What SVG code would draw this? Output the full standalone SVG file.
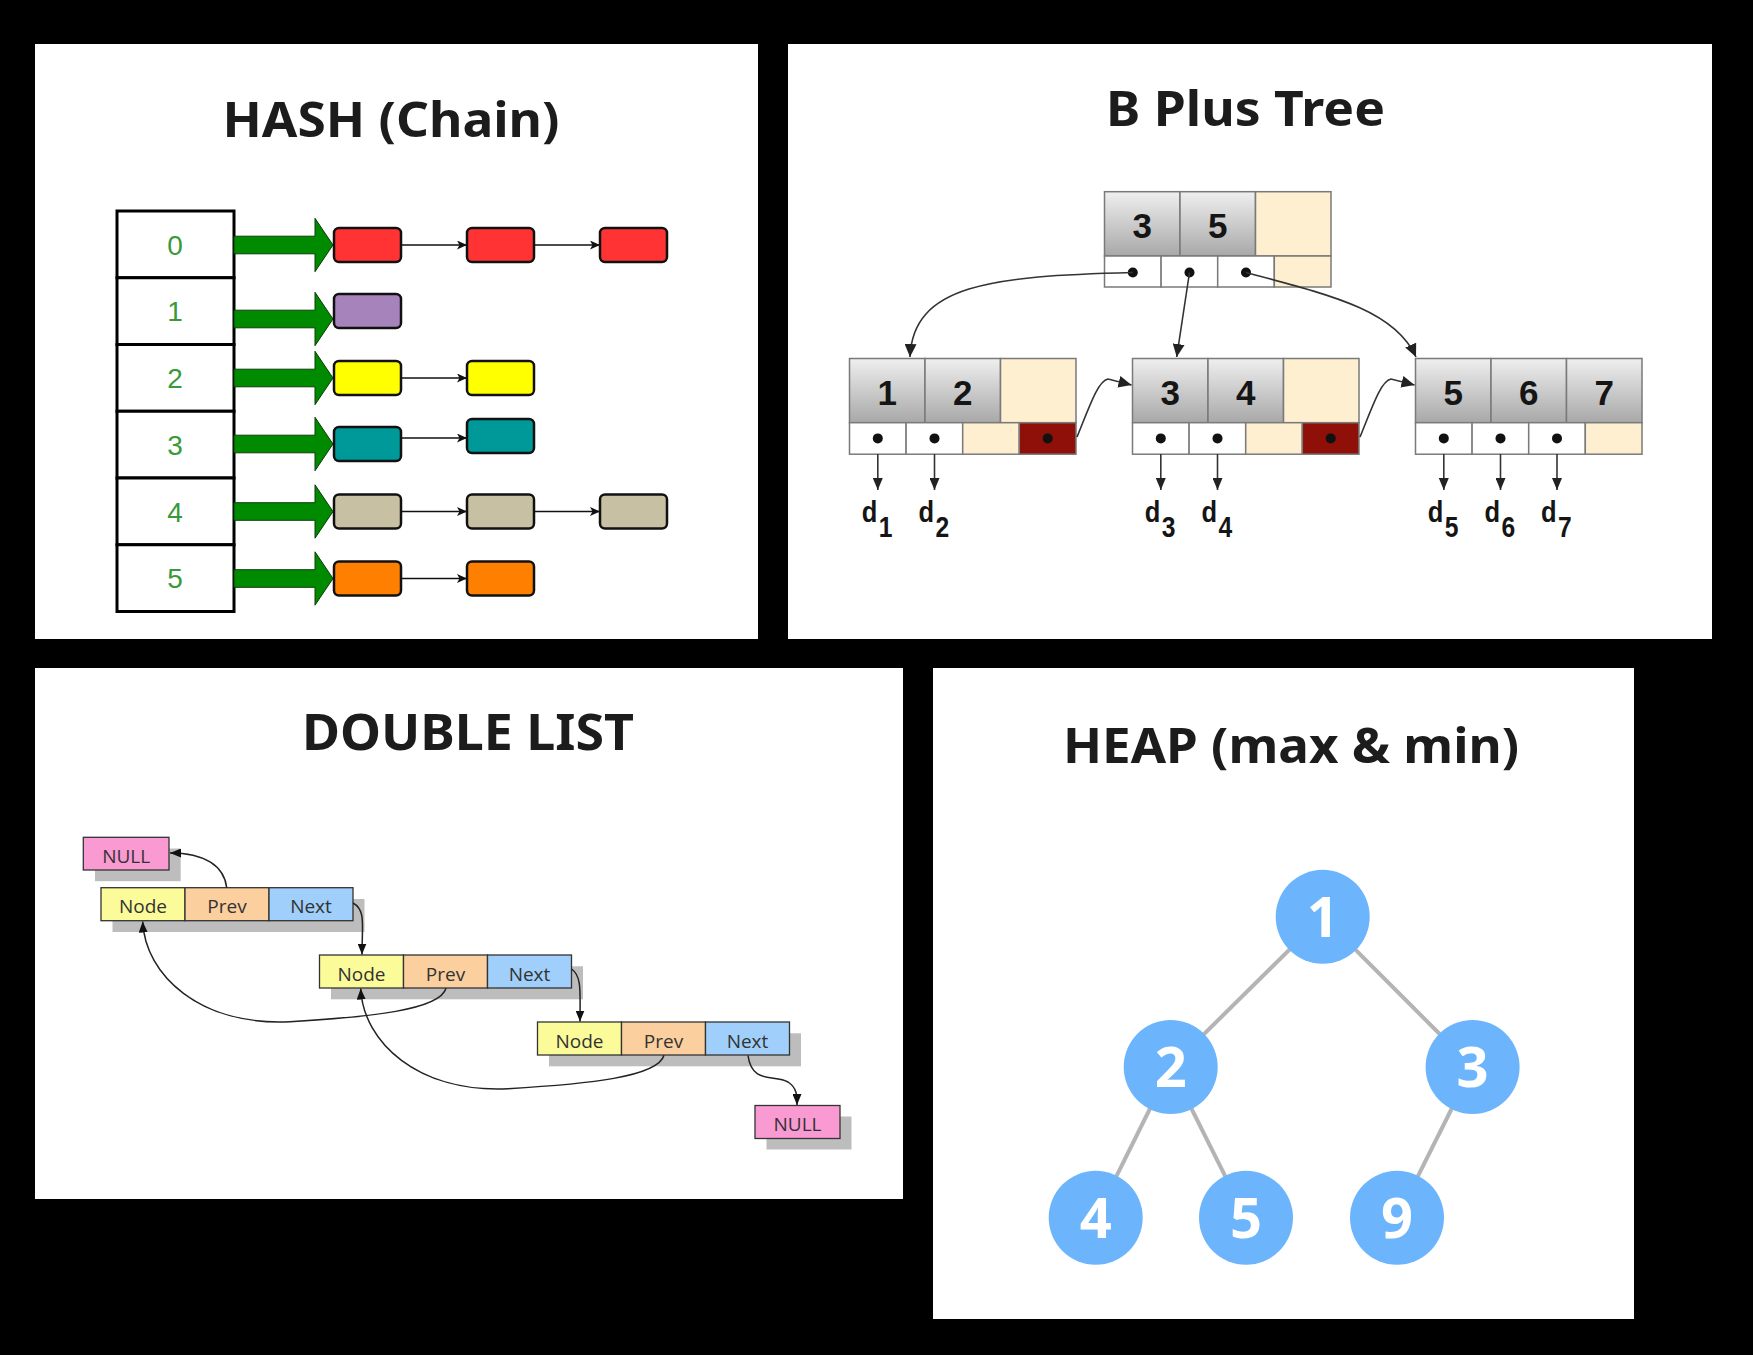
<svg xmlns="http://www.w3.org/2000/svg" width="1753" height="1355" viewBox="0 0 1753 1355">
<defs>
<style>
.panel{fill:#fff}
.title{font-family:"Noto Sans","DejaVu Sans",sans-serif;font-weight:700;fill:#1c1c1c;text-anchor:middle}
.slot{fill:#fff;stroke:#000;stroke-width:3}
.idx{font-family:"Liberation Sans",Arial,sans-serif;font-size:28px;fill:#3a9a3a;text-anchor:middle}
.hbox{stroke:#111;stroke-width:2.5}
.garrow{fill:#008a00;stroke:#0b3d0b;stroke-width:1}
.hlink{stroke:#111;stroke-width:1.5;fill:none;marker-end:url(#mh)}
.key{fill:url(#kg);stroke:#7a7a7a;stroke-width:1.5}
.cream{fill:#fdefcf;stroke:#7a7a7a;stroke-width:1.5}
.ptr{fill:#fff;stroke:#7a7a7a;stroke-width:1.5}
.red{fill:#8e1008;stroke:#7a7a7a;stroke-width:1.5}
.ktxt{font-family:"Liberation Sans",Arial,sans-serif;font-weight:700;font-size:35px;fill:#151515;text-anchor:middle}
.dot{fill:#111}
.blink{stroke:#333;stroke-width:1.6;fill:none;marker-end:url(#mb)}
.dlink{stroke:#333;stroke-width:1.6;fill:none;marker-end:url(#md)}
.dlab{font-family:"Liberation Sans",Arial,sans-serif;font-weight:700;font-size:30px;fill:#151515}
.sub{font-size:29px}
.shadow{fill:#bdbdbd}
.cell{stroke:#333;stroke-width:1.3}
.cnode{fill:#fbfb9a}
.cprev{fill:#fbcf9e}
.cnext{fill:#9fcffa}
.cnull{fill:#f99ad2}
.ltxt{font-family:"Open Sans","Noto Sans",sans-serif;font-size:19px;fill:#333;text-anchor:middle}
.llink{stroke:#222;stroke-width:1.5;fill:none;marker-end:url(#ml)}
.hedge{stroke:#b4b4b4;stroke-width:4}
.hc{fill:#6cb5fd}
.hn{font-family:"Noto Sans","DejaVu Sans",sans-serif;font-weight:700;font-size:56px;fill:#fff;text-anchor:middle}
</style>
<linearGradient id="kg" x1="0" y1="0" x2="0" y2="1">
<stop offset="0" stop-color="#efefef"/>
<stop offset="1" stop-color="#a8a8a8"/>
</linearGradient>
<marker id="mh" markerUnits="userSpaceOnUse" markerWidth="11" markerHeight="9" refX="10" refY="4.5" orient="auto"><path d="M0,0 L10,4.5 L0,9 L2.5,4.5 Z" fill="#111"/></marker>
<marker id="mb" markerUnits="userSpaceOnUse" markerWidth="14" markerHeight="12" refX="13" refY="6" orient="auto"><path d="M0,0 L13,6 L0,12 Z" fill="#222"/></marker>
<marker id="md" markerUnits="userSpaceOnUse" markerWidth="12" markerHeight="10" refX="12" refY="5" orient="auto"><path d="M0,0 L12,5 L0,10 Z" fill="#222"/></marker>
<marker id="ml" markerUnits="userSpaceOnUse" markerWidth="11" markerHeight="9" refX="11" refY="4.5" orient="auto"><path d="M0,0 L11,4.5 L0,9 Z" fill="#111"/></marker>
</defs>

<rect x="0" y="0" width="1753" height="1355" fill="#000"/>

<!-- Panels -->
<rect class="panel" x="35" y="44" width="723" height="595"/>
<rect class="panel" x="788" y="44" width="924" height="595"/>
<rect class="panel" x="35" y="668" width="868" height="531"/>
<rect class="panel" x="933" y="668" width="701" height="651"/>

<!-- Titles -->
<text class="title" x="391" y="137" font-size="49" textLength="337" lengthAdjust="spacingAndGlyphs">HASH (Chain)</text>
<text class="title" x="1245.5" y="126" font-size="48" textLength="279" lengthAdjust="spacingAndGlyphs">B Plus Tree</text>
<text class="title" x="468" y="750" font-size="50" textLength="332" lengthAdjust="spacingAndGlyphs">DOUBLE LIST</text>
<text class="title" x="1291" y="763" font-size="49" textLength="456" lengthAdjust="spacingAndGlyphs">HEAP (max &amp; min)</text>

<!-- ============ HASH ============ -->
<g id="hash-table">
<rect class="slot" x="117" y="211" width="117" height="66.75"/>
<rect class="slot" x="117" y="277.75" width="117" height="66.75"/>
<rect class="slot" x="117" y="344.5" width="117" height="66.75"/>
<rect class="slot" x="117" y="411.25" width="117" height="66.75"/>
<rect class="slot" x="117" y="478" width="117" height="66.75"/>
<rect class="slot" x="117" y="544.75" width="117" height="66.75"/>
<text class="idx" x="175" y="254.5">0</text>
<text class="idx" x="175" y="321">1</text>
<text class="idx" x="175" y="388">2</text>
<text class="idx" x="175" y="454.5">3</text>
<text class="idx" x="175" y="521.5">4</text>
<text class="idx" x="175" y="588">5</text>
</g>

<g id="hash-arrows">
<path class="garrow" d="M234,236.2 H315 V218.3 L333,245 L315,271.7 V253.8 H234 Z"/>
<path class="garrow" d="M234,310.2 H315 V292.3 L333,319 L315,345.7 V327.8 H234 Z"/>
<path class="garrow" d="M234,369.2 H315 V351.3 L333,378 L315,404.7 V386.8 H234 Z"/>
<path class="garrow" d="M234,435.2 H315 V417.3 L333,444 L315,470.7 V452.8 H234 Z"/>
<path class="garrow" d="M234,502.7 H315 V484.8 L333,511.5 L315,538.2 V520.3 H234 Z"/>
<path class="garrow" d="M234,569.7 H315 V551.8 L333,578.5 L315,605.2 V587.3 H234 Z"/>
</g>

<g id="hash-chain-links">
<line class="hlink" x1="401" y1="245" x2="467" y2="245"/>
<line class="hlink" x1="534" y1="245" x2="600" y2="245"/>
<line class="hlink" x1="401" y1="378" x2="467" y2="378"/>
<line class="hlink" x1="401" y1="438" x2="467" y2="438"/>
<line class="hlink" x1="401" y1="511.5" x2="467" y2="511.5"/>
<line class="hlink" x1="534" y1="511.5" x2="600" y2="511.5"/>
<line class="hlink" x1="401" y1="578.5" x2="467" y2="578.5"/>
</g>

<g id="hash-row0"><rect class="hbox" x="334" y="228" width="67" height="34" rx="5" fill="#ff3333"/><rect class="hbox" x="467" y="228" width="67" height="34" rx="5" fill="#ff3333"/><rect class="hbox" x="600" y="228" width="67" height="34" rx="5" fill="#ff3333"/></g>
<g id="hash-row1"><rect class="hbox" x="334" y="294" width="67" height="34" rx="5" fill="#a683bb"/></g>
<g id="hash-row2"><rect class="hbox" x="334" y="361" width="67" height="34" rx="5" fill="#ffff00"/><rect class="hbox" x="467" y="361" width="67" height="34" rx="5" fill="#ffff00"/></g>
<g id="hash-row3"><rect class="hbox" x="334" y="427" width="67" height="34" rx="5" fill="#009999"/><rect class="hbox" x="467" y="419" width="67" height="34" rx="5" fill="#009999"/></g>
<g id="hash-row4"><rect class="hbox" x="334" y="494.5" width="67" height="34" rx="5" fill="#c8c0a2"/><rect class="hbox" x="467" y="494.5" width="67" height="34" rx="5" fill="#c8c0a2"/><rect class="hbox" x="600" y="494.5" width="67" height="34" rx="5" fill="#c8c0a2"/></g>
<g id="hash-row5"><rect class="hbox" x="334" y="561.5" width="67" height="34" rx="5" fill="#ff8000"/><rect class="hbox" x="467" y="561.5" width="67" height="34" rx="5" fill="#ff8000"/></g>

<!-- ============ B PLUS TREE ============ -->
<g id="bp-root">
<rect class="key" x="1104.5" y="191.7" width="75.5" height="64.3"/>
<rect class="key" x="1180" y="191.7" width="75.5" height="64.3"/>
<rect class="cream" x="1255.5" y="191.7" width="75.5" height="64.3"/>
<rect class="ptr" x="1104.5" y="256" width="56.6" height="31"/>
<rect class="ptr" x="1161.1" y="256" width="56.6" height="31"/>
<rect class="ptr" x="1217.7" y="256" width="56.6" height="31"/>
<rect class="cream" x="1274.3" y="256" width="56.7" height="31"/>
<text class="ktxt" x="1142.25" y="238">3</text>
<text class="ktxt" x="1217.75" y="238">5</text>
<circle class="dot" cx="1132.8" cy="272.5" r="5"/>
<circle class="dot" cx="1189.5" cy="272.5" r="5"/>
<circle class="dot" cx="1246" cy="272.5" r="5"/>
</g>

<g id="bp-leaf1">
<rect class="key" x="849.5" y="358.5" width="75.5" height="64.2"/>
<rect class="key" x="925" y="358.5" width="75.5" height="64.2"/>
<rect class="cream" x="1000.5" y="358.5" width="75.5" height="64.2"/>
<rect class="ptr" x="849.5" y="422.7" width="56.6" height="31.5"/>
<rect class="ptr" x="906.1" y="422.7" width="56.6" height="31.5"/>
<rect class="cream" x="962.7" y="422.7" width="56.6" height="31.5"/>
<rect class="red" x="1019.3" y="422.7" width="56.7" height="31.5"/>
<text class="ktxt" x="887.25" y="405">1</text>
<text class="ktxt" x="962.75" y="405">2</text>
<circle class="dot" cx="877.8" cy="438.4" r="5"/>
<circle class="dot" cx="934.5" cy="438.4" r="5"/>
<circle class="dot" cx="1047.7" cy="438.4" r="5"/>
</g>

<g id="bp-leaf2">
<rect class="key" x="1132.5" y="358.5" width="75.5" height="64.2"/>
<rect class="key" x="1208" y="358.5" width="75.5" height="64.2"/>
<rect class="cream" x="1283.5" y="358.5" width="75.5" height="64.2"/>
<rect class="ptr" x="1132.5" y="422.7" width="56.6" height="31.5"/>
<rect class="ptr" x="1189.1" y="422.7" width="56.6" height="31.5"/>
<rect class="cream" x="1245.7" y="422.7" width="56.6" height="31.5"/>
<rect class="red" x="1302.3" y="422.7" width="56.7" height="31.5"/>
<text class="ktxt" x="1170.25" y="405">3</text>
<text class="ktxt" x="1245.75" y="405">4</text>
<circle class="dot" cx="1160.8" cy="438.4" r="5"/>
<circle class="dot" cx="1217.5" cy="438.4" r="5"/>
<circle class="dot" cx="1330.7" cy="438.4" r="5"/>
</g>

<g id="bp-leaf3">
<rect class="key" x="1415.5" y="358.5" width="75.5" height="64.2"/>
<rect class="key" x="1491" y="358.5" width="75.5" height="64.2"/>
<rect class="key" x="1566.5" y="358.5" width="75.5" height="64.2"/>
<rect class="ptr" x="1415.5" y="422.7" width="56.6" height="31.5"/>
<rect class="ptr" x="1472.1" y="422.7" width="56.6" height="31.5"/>
<rect class="ptr" x="1528.7" y="422.7" width="56.6" height="31.5"/>
<rect class="cream" x="1585.3" y="422.7" width="56.7" height="31.5"/>
<text class="ktxt" x="1453.25" y="405">5</text>
<text class="ktxt" x="1528.75" y="405">6</text>
<text class="ktxt" x="1604.25" y="405">7</text>
<circle class="dot" cx="1443.8" cy="438.4" r="5"/>
<circle class="dot" cx="1500.5" cy="438.4" r="5"/>
<circle class="dot" cx="1557" cy="438.4" r="5"/>
</g>

<g id="bp-connectors">
<path class="blink" d="M1132.8,272.5 C990,276 913,285 910,357"/>
<path class="blink" d="M1189.5,272.5 L1176.7,357"/>
<path class="blink" d="M1246,272.5 C1330,295 1395,310 1416,357"/>
<path class="blink" d="M1077,437 C1090,405 1098,381 1108,379 L1131.5,385"/>
<path class="blink" d="M1360,437 C1373,405 1381,381 1391,379 L1414.5,385"/>
<line class="dlink" x1="877.8" y1="454" x2="877.8" y2="490"/>
<line class="dlink" x1="934.5" y1="454" x2="934.5" y2="490"/>
<line class="dlink" x1="1160.8" y1="454" x2="1160.8" y2="490"/>
<line class="dlink" x1="1217.5" y1="454" x2="1217.5" y2="490"/>
<line class="dlink" x1="1443.8" y1="454" x2="1443.8" y2="490"/>
<line class="dlink" x1="1500.5" y1="454" x2="1500.5" y2="490"/>
<line class="dlink" x1="1557" y1="454" x2="1557" y2="490"/>
</g>

<g id="bp-data">
<text class="dlab" transform="translate(861.8,521.7) scale(0.85,1)">d<tspan class="sub" x="20" y="15">1</tspan></text>
<text class="dlab" transform="translate(918.5,521.7) scale(0.85,1)">d<tspan class="sub" x="20" y="15">2</tspan></text>
<text class="dlab" transform="translate(1144.8,521.7) scale(0.85,1)">d<tspan class="sub" x="20" y="15">3</tspan></text>
<text class="dlab" transform="translate(1201.5,521.7) scale(0.85,1)">d<tspan class="sub" x="20" y="15">4</tspan></text>
<text class="dlab" transform="translate(1427.8,521.7) scale(0.85,1)">d<tspan class="sub" x="20" y="15">5</tspan></text>
<text class="dlab" transform="translate(1484.5,521.7) scale(0.85,1)">d<tspan class="sub" x="20" y="15">6</tspan></text>
<text class="dlab" transform="translate(1541,521.7) scale(0.85,1)">d<tspan class="sub" x="20" y="15">7</tspan></text>
</g>

<!-- ============ DOUBLE LIST ============ -->
<g id="dl-null-top">
<rect class="shadow" x="95" y="848.5" width="85.7" height="32.7"/>
<rect class="cell cnull" x="83.3" y="837.3" width="85.7" height="32.7"/>
<text class="ltxt" x="126.2" y="862.5">NULL</text>
</g>
<g id="dl-node1">
<rect class="shadow" x="112.5" y="899" width="252" height="33"/>
<rect class="cell cnode" x="101" y="887.7" width="84" height="33"/>
<rect class="cell cprev" x="185" y="887.7" width="84" height="33"/>
<rect class="cell cnext" x="269" y="887.7" width="84" height="33"/>
<text class="ltxt" x="143" y="913.3">Node</text>
<text class="ltxt" x="227" y="913.3">Prev</text>
<text class="ltxt" x="311" y="913.3">Next</text>
</g>
<g id="dl-node2">
<rect class="shadow" x="331" y="966.3" width="252" height="33"/>
<rect class="cell cnode" x="319.5" y="955" width="84" height="33"/>
<rect class="cell cprev" x="403.5" y="955" width="84" height="33"/>
<rect class="cell cnext" x="487.5" y="955" width="84" height="33"/>
<text class="ltxt" x="361.5" y="980.6">Node</text>
<text class="ltxt" x="445.5" y="980.6">Prev</text>
<text class="ltxt" x="529.5" y="980.6">Next</text>
</g>
<g id="dl-node3">
<rect class="shadow" x="549" y="1033.3" width="252" height="33"/>
<rect class="cell cnode" x="537.5" y="1022" width="84" height="33"/>
<rect class="cell cprev" x="621.5" y="1022" width="84" height="33"/>
<rect class="cell cnext" x="705.5" y="1022" width="84" height="33"/>
<text class="ltxt" x="579.5" y="1047.6">Node</text>
<text class="ltxt" x="663.5" y="1047.6">Prev</text>
<text class="ltxt" x="747.5" y="1047.6">Next</text>
</g>
<g id="dl-null-bottom">
<rect class="shadow" x="766.5" y="1116.5" width="85" height="33"/>
<rect class="cell cnull" x="755" y="1105.5" width="85" height="33"/>
<text class="ltxt" x="797.5" y="1130.8">NULL</text>
</g>

<g id="dl-connectors">
<path class="llink" d="M226.7,887.7 C224,866 205,853 170,853"/>
<path class="llink" d="M353,903 C366,910 362,925 362,954.5"/>
<path class="llink" d="M571.5,969 C582,976 580,992 580,1021.5"/>
<path class="llink" d="M446,988.3 C440,1010 370,1017 290,1021.7 C200,1026 145,975 142.7,921.5"/>
<path class="llink" d="M664,1055.3 C658,1077 588,1084 508,1088.7 C418,1093 363,1042 360.7,988.5"/>
<path class="llink" d="M748,1055.5 C752,1085 775,1074 788,1082 C797,1088 797,1095 797,1105"/>
</g>

<!-- ============ HEAP ============ -->
<g id="heap-edges">
<line class="hedge" x1="1322.7" y1="916.8" x2="1170.7" y2="1067"/>
<line class="hedge" x1="1322.7" y1="916.8" x2="1472.6" y2="1067"/>
<line class="hedge" x1="1170.7" y1="1067" x2="1095.7" y2="1217.8"/>
<line class="hedge" x1="1170.7" y1="1067" x2="1246" y2="1217.8"/>
<line class="hedge" x1="1472.6" y1="1067" x2="1397" y2="1217.8"/>
</g>
<g id="heap-1"><circle class="hc" cx="1322.7" cy="916.8" r="47"/><text class="hn" x="1322.7" y="936.8">1</text></g>
<g id="heap-2"><circle class="hc" cx="1170.7" cy="1067" r="47"/><text class="hn" x="1170.7" y="1087">2</text></g>
<g id="heap-3"><circle class="hc" cx="1472.6" cy="1067" r="47"/><text class="hn" x="1472.6" y="1087">3</text></g>
<g id="heap-4"><circle class="hc" cx="1095.7" cy="1217.8" r="47"/><text class="hn" x="1095.7" y="1237.8">4</text></g>
<g id="heap-5"><circle class="hc" cx="1246" cy="1217.8" r="47"/><text class="hn" x="1246" y="1237.8">5</text></g>
<g id="heap-9"><circle class="hc" cx="1397" cy="1217.8" r="47"/><text class="hn" x="1397" y="1237.8">9</text></g>
</svg>
